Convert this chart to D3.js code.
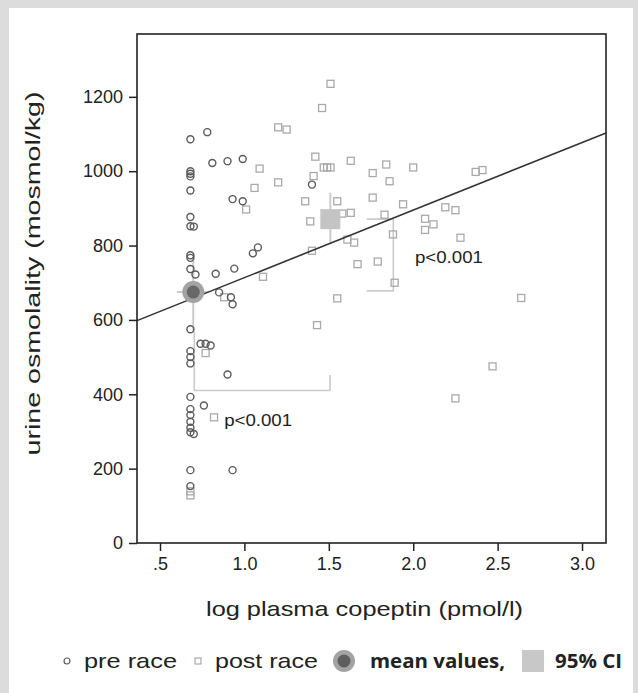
<!DOCTYPE html>
<html>
<head>
<meta charset="utf-8">
<script src="https://cdn.jsdelivr.net/npm/d3@7"></script>
<style>
  html, body { margin: 0; padding: 0; background: #dcdcdc; }
  svg { display: block; font-family: 'Liberation Sans', Arial, sans-serif; }
</style>
</head>
<body>
<div id="chart"></div>
<script>
// data: [log plasma copeptin, urine osmolality]
const preRace = [
  [0.68, 1086], [0.78, 1105], [0.81, 1022], [0.9, 1027], [0.99, 1033],
  [0.68, 1000], [0.68, 993], [0.68, 986], [0.68, 948], [0.93, 925],
  [0.99, 919], [0.68, 877], [0.68, 852], [0.7, 851], [1.08, 795],
  [1.05, 779], [0.68, 774], [0.68, 767], [0.68, 737], [0.71, 722],
  [0.83, 724], [0.94, 738], [1.4, 964], [0.85, 674], [0.92, 661],
  [0.93, 642], [0.68, 575], [0.74, 536], [0.77, 536], [0.8, 531],
  [0.68, 516], [0.68, 500], [0.68, 483], [0.9, 453], [0.68, 393],
  [0.76, 370], [0.68, 360], [0.68, 344], [0.68, 326], [0.68, 310],
  [0.68, 298], [0.7, 293], [0.68, 196], [0.93, 196], [0.68, 153],
]
const postRace = [
  [1.51, 1235], [1.46, 1170], [1.2, 1118], [1.25, 1112], [1.42, 1039],
  [1.63, 1028], [1.09, 1007], [1.47, 1010], [1.49, 1010], [1.51, 1010],
  [1.76, 995], [1.41, 987], [1.2, 970], [1.06, 955], [1.01, 897],
  [1.36, 919], [1.55, 919], [1.39, 865], [1.58, 886], [1.63, 888],
  [1.61, 816], [1.65, 808], [1.4, 786], [1.67, 750], [1.79, 757],
  [1.11, 716], [1.55, 658], [0.88, 661], [0.77, 511], [0.82, 338],
  [1.43, 586], [1.84, 1018], [2.0, 1010], [1.76, 929], [1.86, 973],
  [2.37, 998], [2.41, 1003], [1.94, 911], [1.83, 883], [2.19, 903],
  [2.25, 895], [2.07, 872], [2.12, 857], [2.07, 842], [1.88, 830],
  [2.28, 821], [1.89, 700], [2.64, 659], [2.47, 475], [2.25, 389],
  [0.68, 139], [0.68, 128],
]

// group means with 95% CI
const preMean = { x: 0.697, y: 675, xLo: 0.6, xHi: 0.79, yLo: 571, yHi: 779 }
const postMean = { x: 1.509, y: 871, xLo: 1.46, xHi: 1.56, yLo: 805, yHi: 942 }

// regression line
const fit = { intercept: 532, slope: 181.7 }

// comparison brackets (data units)
const bracketY = [[1.724, 871], [1.882, 871], [1.882, 678], [1.724, 678]]
const bracketX = [[0.703, 571], [0.703, 410], [1.507, 410], [1.507, 452]]
const pLabels = [
  { x: 2.01, y: 752, text: 'p<0.001' },
  { x: 0.88, y: 316, text: 'p<0.001' },
]

const xTicks = [0.5, 1.0, 1.5, 2.0, 2.5, 3.0]
const xTickLabels = ['.5', '1.0', '1.5', '2.0', '2.5', '3.0']
const yTicks = [0, 200, 400, 600, 800, 1000, 1200]

// size
const W = 638
const H = 693
const margin = { left: 137, right: 32, top: 34, bottom: 150 }
const width = W - margin.left - margin.right
const height = H - margin.top - margin.bottom

// scale
const x = d3.scaleLinear().domain([0.3637, 3.142]).range([0, width])
const y = d3.scaleLinear().domain([0, 1369]).range([height, 0])

// style
const preColor = '#5a5a5a'
const postColor = '#a9a9a9'
const ciColor = '#cbcbcb'

const svg = d3
  .select('#chart')
  .append('svg')
  .attr('width', W)
  .attr('height', H)

// page frame
svg
  .append('rect')
  .attr('x', 9)
  .attr('y', 8)
  .attr('width', W - 9 - 5)
  .attr('height', H - 8)
  .attr('fill', '#fff')

const plot = svg
  .append('g')
  .attr('transform', `translate(${margin.left}, ${margin.top})`)

// x-axis
const xAxis = plot
  .append('g')
  .attr('transform', `translate(0, ${height})`)
  .call(
    d3
      .axisBottom(x)
      .tickValues(xTicks)
      .tickFormat((d, i) => xTickLabels[i])
      .tickSizeOuter(0)
      .tickSize(8)
      .tickPadding(6),
  )
xAxis.select('.domain').remove()
xAxis.selectAll('line').attr('stroke', '#222').attr('stroke-width', 1.5)
xAxis.selectAll('text').attr('font-size', '18px').attr('fill', '#222')

// y-axis
const yAxis = plot
  .append('g')
  .call(
    d3
      .axisLeft(y)
      .tickValues(yTicks)
      .tickFormat(d3.format('d'))
      .tickSizeOuter(0)
      .tickSize(8)
      .tickPadding(6),
  )
yAxis.select('.domain').remove()
yAxis.selectAll('line').attr('stroke', '#222').attr('stroke-width', 1.5)
yAxis.selectAll('text').attr('font-size', '18px').attr('fill', '#222')

// axis labels (the original type is set wide, so stretch to its length)
plot
  .append('text')
  .attr('text-anchor', 'middle')
  .attr('font-size', '21px')
  .attr('fill', '#222')
  .attr('textLength', 317)
  .attr('lengthAdjust', 'spacingAndGlyphs')
  .attr('transform', `translate(${width / 2 - 7}, ${height + 73})`)
  .text('log plasma copeptin (pmol/l)')

plot
  .append('text')
  .attr('text-anchor', 'middle')
  .attr('font-size', '21px')
  .attr('fill', '#222')
  .attr('textLength', 364)
  .attr('lengthAdjust', 'spacingAndGlyphs')
  .attr('transform', `translate(-97, ${height / 2 - 15}) rotate(-90)`)
  .text('urine osmolality (mosmol/kg)')

// CI whiskers
const ci = plot.append('g').attr('stroke', ciColor).attr('stroke-width', 2)
;[preMean, postMean].forEach(m => {
  ci.append('line')
    .attr('x1', x(m.x)).attr('x2', x(m.x))
    .attr('y1', y(m.yLo)).attr('y2', y(m.yHi))
  ci.append('line')
    .attr('x1', x(m.xLo)).attr('x2', x(m.xHi))
    .attr('y1', y(m.y)).attr('y2', y(m.y))
})

// brackets
const bracketLine = d3
  .line()
  .x(d => x(d[0]))
  .y(d => y(d[1]))
;[bracketY, bracketX].forEach(b => {
  plot
    .append('path')
    .attr('d', bracketLine(b))
    .attr('fill', 'none')
    .attr('stroke', ciColor)
    .attr('stroke-width', 1.6)
    .attr('stroke-linejoin', 'round')
})

plot
  .selectAll('text.p')
  .data(pLabels)
  .join('text')
  .attr('class', 'p')
  .attr('x', d => x(d.x))
  .attr('y', d => y(d.y))
  .attr('font-size', '17px')
  .attr('textLength', 68)
  .attr('lengthAdjust', 'spacingAndGlyphs')
  .attr('fill', '#222')
  .text(d => d.text)

// points
plot
  .selectAll('rect.post')
  .data(postRace)
  .join('rect')
  .attr('class', 'post')
  .attr('x', d => x(d[0]) - 3.5)
  .attr('y', d => y(d[1]) - 3.5)
  .attr('width', 7)
  .attr('height', 7)
  .attr('fill', 'none')
  .attr('stroke', postColor)
  .attr('stroke-width', 1.3)

plot
  .selectAll('circle.pre')
  .data(preRace)
  .join('circle')
  .attr('class', 'pre')
  .attr('cx', d => x(d[0]))
  .attr('cy', d => y(d[1]))
  .attr('r', 3.5)
  .attr('fill', 'none')
  .attr('stroke', preColor)
  .attr('stroke-width', 1.4)

// regression line
const [x0, x1] = x.domain()
plot
  .append('line')
  .attr('x1', x(x0))
  .attr('y1', y(fit.intercept + fit.slope * x0))
  .attr('x2', x(x1))
  .attr('y2', y(fit.intercept + fit.slope * x1))
  .attr('stroke', '#333')
  .attr('stroke-width', 1.6)

// means
plot
  .append('circle')
  .attr('cx', x(preMean.x))
  .attr('cy', y(preMean.y))
  .attr('r', 11)
  .attr('fill', '#a3a3a3')
plot
  .append('circle')
  .attr('cx', x(preMean.x))
  .attr('cy', y(preMean.y))
  .attr('r', 6.5)
  .attr('fill', '#686868')
plot
  .append('rect')
  .attr('x', x(postMean.x) - 10)
  .attr('y', y(postMean.y) - 10)
  .attr('width', 20)
  .attr('height', 20)
  .attr('fill', '#c4c4c4')

// frame
plot
  .append('rect')
  .attr('width', width)
  .attr('height', height)
  .attr('fill', 'none')
  .attr('stroke', '#222')
  .attr('stroke-width', 1.6)

// legend
const legend = svg.append('g').attr('transform', 'translate(0, 661)')
legend
  .append('circle')
  .attr('cx', 67)
  .attr('r', 3)
  .attr('fill', 'none')
  .attr('stroke', preColor)
  .attr('stroke-width', 1.2)
legend
  .append('rect')
  .attr('x', 195)
  .attr('y', -3)
  .attr('width', 6)
  .attr('height', 6)
  .attr('fill', 'none')
  .attr('stroke', postColor)
  .attr('stroke-width', 1.2)
legend.append('circle').attr('cx', 344).attr('r', 11).attr('fill', '#a3a3a3')
legend.append('circle').attr('cx', 344).attr('r', 6.5).attr('fill', '#5e5e5e')
legend
  .append('rect')
  .attr('x', 522)
  .attr('y', -11)
  .attr('width', 22)
  .attr('height', 22)
  .attr('fill', '#c8c8c8')

const legendText = [
  { x: 84, text: 'pre race', bold: false, len: 93 },
  { x: 215, text: 'post race', bold: false, len: 103 },
  { x: 370, text: 'mean values,', bold: true, len: 135 },
  { x: 555, text: '95% CI', bold: true, len: 67 },
]
legend
  .selectAll('text')
  .data(legendText)
  .join('text')
  .attr('x', d => d.x)
  .attr('dy', '0.35em')
  .attr('font-size', d => (d.bold ? '19px' : '21px'))
  .attr('font-weight', d => (d.bold ? 'bold' : 'normal'))
  .attr('font-family', d => (d.bold ? "'Open Sans', sans-serif" : null))
  .attr('textLength', d => d.len)
  .attr('lengthAdjust', 'spacingAndGlyphs')
  .attr('fill', '#222')
  .text(d => d.text)
</script>
</body>
</html>
